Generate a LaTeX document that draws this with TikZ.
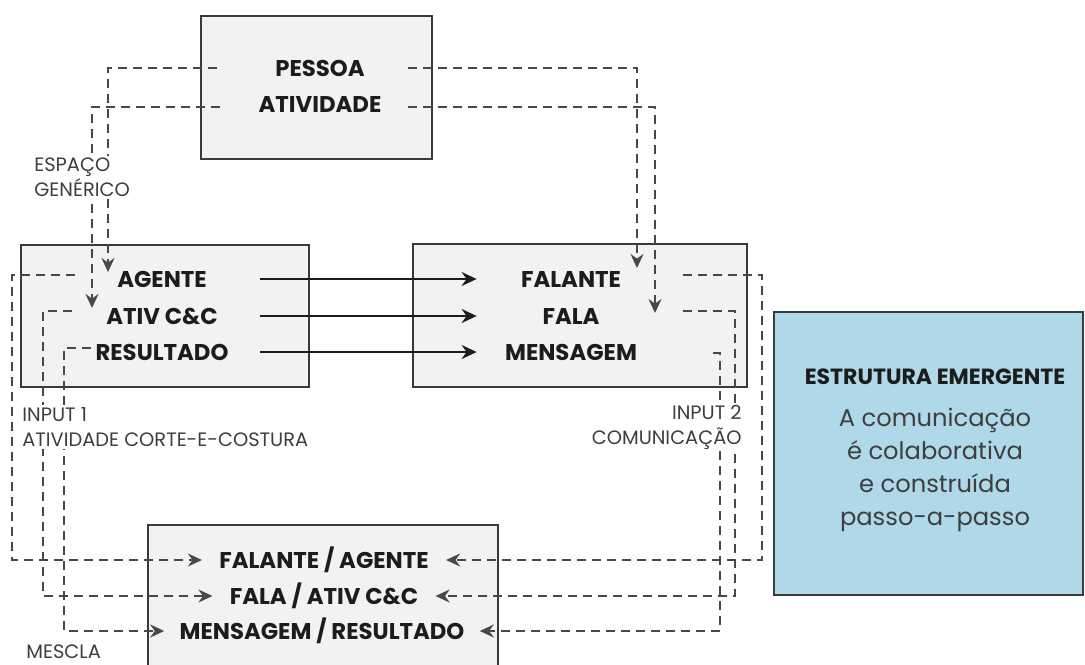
\documentclass[tikz,border=0pt]{standalone}
\usepackage{fontspec}
\setmainfont{Poppins}
\usetikzlibrary{arrows.meta}
\definecolor{caixacinza}{RGB}{242,242,242}
\definecolor{contorno}{RGB}{58,58,58}
\definecolor{tracocinza}{RGB}{72,72,72}
\definecolor{textoescuro}{RGB}{28,28,28}
\definecolor{azulemerg}{RGB}{175,217,233}
\begin{document}
\begin{tikzpicture}[x=0.5pt,y=-0.5pt,
	caixa/.style={draw=contorno, line width=1pt, fill=caixacinza, inner sep=0pt},
	rotulo/.style={font=\bfseries\fontsize{11.4}{13}\selectfont, text=textoescuro, inner sep=0pt, text height=8pt, text depth=0pt},
	legenda/.style={font=\fontsize{9.7}{12.5}\selectfont, text=textoescuro!85, inner sep=1pt, fill=white},
	seta/.style={draw=textoescuro, line width=1pt, -{Stealth[length=7.5pt,width=7pt,inset=2.5pt]}},
	tracejado/.style={draw=tracocinza, line width=0.9pt, dash pattern=on 4.5pt off 3pt, -{Stealth[length=7pt,width=6.5pt,inset=2.3pt]}},
	]
	\useasboundingbox (0,0) rectangle (1085,664);
	
	% caixas
	\node[caixa, minimum width=115.5pt, minimum height=71.5pt] (generico) at (316.5,87.5) {};
	\node[caixa, minimum width=144pt, minimum height=71pt] (input1) at (165,316) {};
	\node[caixa, minimum width=167pt, minimum height=71.5pt] (input2) at (580,315.5) {};
	\node[caixa, minimum width=175pt, minimum height=87.5pt] (mescla) at (323,612.5) {};
	\node[caixa, fill=azulemerg, minimum width=154.5pt, minimum height=141.5pt] (emergente) at (928.5,453.5) {};
	
	% textos das caixas
	\node[rotulo] (pessoa) at (320,68) {PESSOA};
	\node[rotulo] (atividade) at (320,104) {ATIVIDADE};
	\node[rotulo, minimum width=98pt] (agente) at (162,279) {AGENTE};
	\node[rotulo, minimum width=98pt] (ativcc) at (162,316) {ATIV C\&C};
	\node[rotulo, minimum width=98pt] (resultado) at (162,352) {RESULTADO};
	\node[rotulo, minimum width=94pt] (falante) at (571,279) {FALANTE};
	\node[rotulo, minimum width=94pt] (fala) at (571,316) {FALA};
	\node[rotulo, minimum width=94pt] (mensagem) at (571,352) {MENSAGEM};
	\node[rotulo, inner xsep=8.5pt] (falag) at (324,560) {FALANTE / AGENTE};
	\node[rotulo, inner xsep=8.5pt] (falativ) at (324,596) {FALA / ATIV C\&C};
	\node[rotulo, inner xsep=7.5pt] (mensres) at (322,631) {MENSAGEM / RESULTADO};
	\node[rotulo, font=\bfseries\fontsize{11}{13}\selectfont] (titulo) at (935,376) {ESTRUTURA EMERGENTE};
	\node[font=\fontsize{12.1}{16.5}\selectfont, text=textoescuro!85, align=center, inner sep=0pt] (corpo) at (935,470)
		{A comunicação\\é colaborativa\\e construída\\passo-a-passo};
	
	% pontas livres
	\coordinate (g1) at (217,68);
	\coordinate (g2) at (220,107);
	\coordinate (g3) at (408,68);
	\coordinate (g4) at (408,107);
	\coordinate (a1) at (108,272);
	\coordinate (a2) at (92,308);
	\coordinate (f1) at (637,268);
	\coordinate (f2) at (655,313);
	\coordinate (e1) at (75,275);
	\coordinate (e2) at (72,311);
	\coordinate (e3) at (91,348);
	\coordinate (d1) at (683,275);
	\coordinate (d2) at (683,311);
	\coordinate (d3) at (713,353);
	
	% espaco generico -> inputs
	\draw[tracejado] (g1) -| (a1);
	\draw[tracejado] (g2) -| (a2);
	\draw[tracejado] (g3) -| (f1);
	\draw[tracejado] (g4) -| (f2);
	
	% input 1 -> input 2
	\draw[seta] (agente.east) -- (falante.west);
	\draw[seta] (ativcc.east) -- (fala.west);
	\draw[seta] (resultado.east) -- (mensagem.west);
	
	% inputs -> mescla
	\draw[tracejado] (e1) -- (12,275) |- (falag.west);
	\draw[tracejado] (e2) -- (43,311) |- (falativ.west);
	\draw[tracejado] (e3) -- (64,348) |- (mensres.west);
	\draw[tracejado] (d1) -- (762,275) |- (falag.east);
	\draw[tracejado] (d2) -- (735,311) |- (falativ.east);
	\draw[tracejado] (d3) -- (720,353) |- (mensres.east);
	
	% legendas
	\node[legenda, anchor=west, align=left] (espaco) at (32,177) {ESPAÇO\\GENÉRICO};
	\node[legenda, anchor=west, align=left] (leg1) at (20,427) {INPUT 1\\ATIVIDADE CORTE-E-COSTURA};
	\node[legenda, anchor=east, align=right] (leg2) at (744,427) {INPUT 2\\COMUNICAÇÃO};
	\node[legenda, anchor=west] (legmescla) at (24,652) {MESCLA};
\end{tikzpicture}
\end{document}
